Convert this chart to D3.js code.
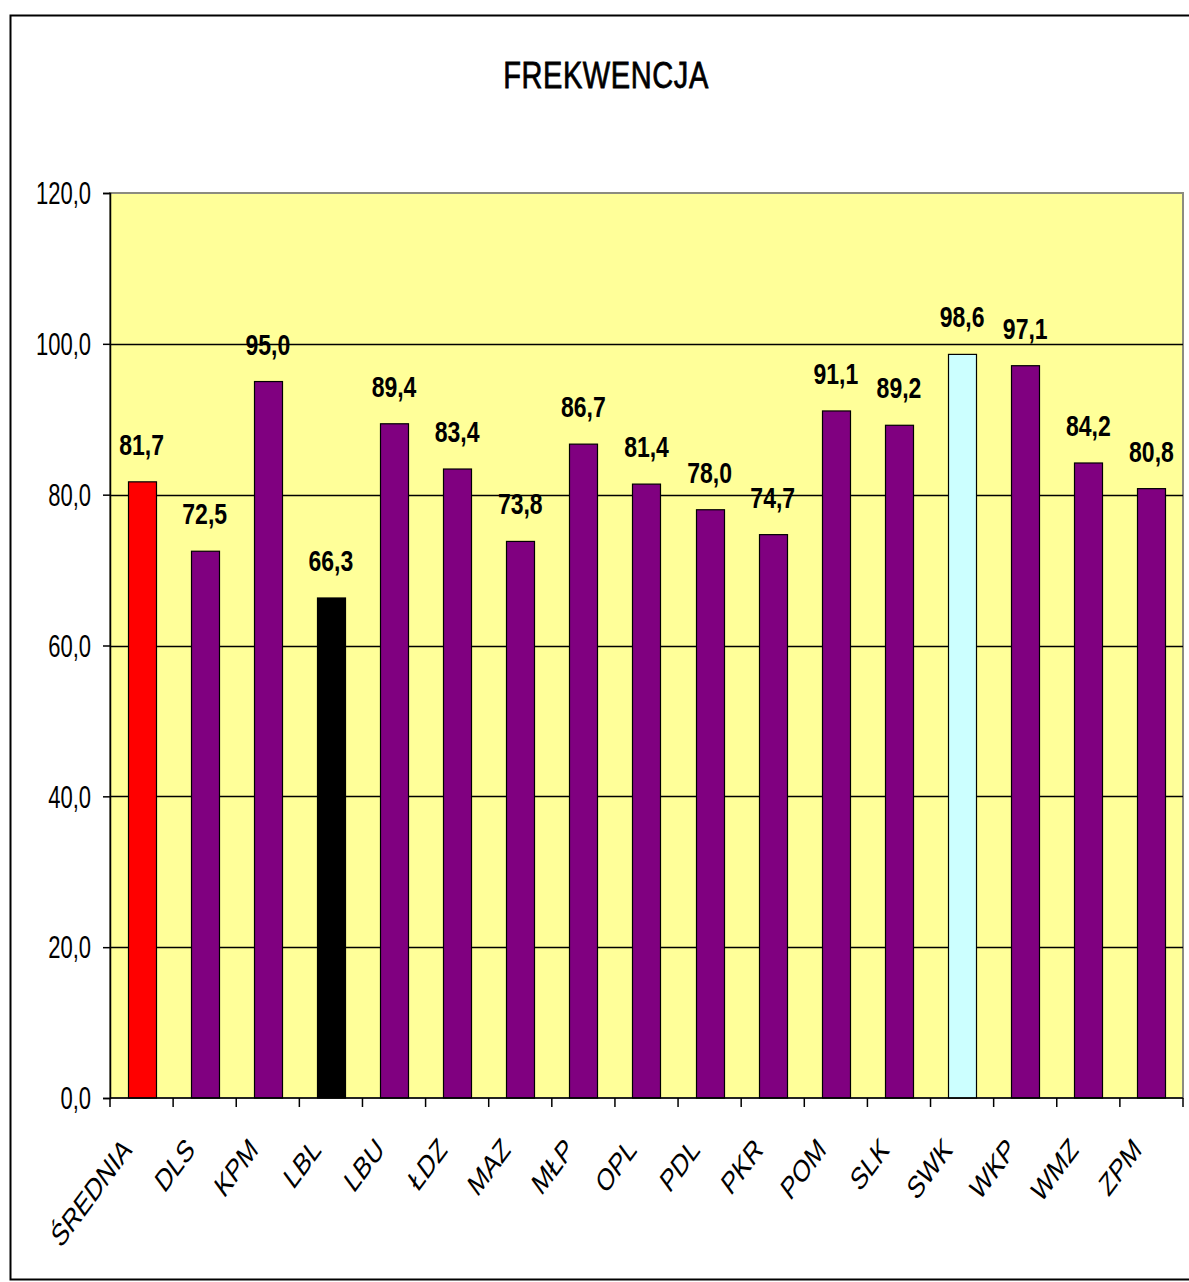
<!DOCTYPE html>
<html><head><meta charset="utf-8">
<script src="https://cdn.jsdelivr.net/npm/d3@7"></script>
<style>
html,body{margin:0;padding:0;background:#fff;}
svg{display:block;}
text{font-family:"Liberation Sans",Arial,sans-serif;fill:#000;}
</style></head>
<body>
<svg id="chart" width="1189" height="1282"></svg>
<script>
const categories = ["ŚREDNIA","DLS","KPM","LBL","LBU","ŁDZ","MAZ","MŁP","OPL","PDL","PKR","POM","SLK","SWK","WKP","WMZ","ZPM"];
const values = [81.7,72.5,95.0,66.3,89.4,83.4,73.8,86.7,81.4,78.0,74.7,91.1,89.2,98.6,97.1,84.2,80.8];
const barColors = ["#ff0000","#800080","#800080","#000000","#800080","#800080","#800080","#800080","#800080","#800080","#800080","#800080","#800080","#ccffff","#800080","#800080","#800080"];
const yTicks = [0,20,40,60,80,100,120];
const title = "FREKWENCJA";

const fmt = v => v.toFixed(1).replace(".", ",");

const svg = d3.select("#chart");
const L = 110, R = 1183, T = 193, B = 1098;

// outer chart border
svg.append("rect").attr("x",10.5).attr("y",15.5).attr("width",1200).attr("height",1264)
  .attr("fill","#fff").attr("stroke","#000").attr("stroke-width",2);

const x = d3.scaleBand().domain(categories).range([L,R]).paddingInner(0.555).paddingOuter(0.2775);
const xb = d3.scaleBand().domain(categories).range([L,R]).padding(0);
const y = d3.scaleLinear().domain([0,120]).range([B,T]);

// plot area
svg.append("rect").attr("x",L).attr("y",T).attr("width",R-L).attr("height",B-T)
  .attr("fill","#ffff99").attr("stroke","#8c8c80").attr("stroke-width",2);

// gridlines
svg.append("g").selectAll("line").data(yTicks.filter(d=>d>0 && d<120)).join("line")
  .attr("x1",L).attr("x2",R).attr("y1",d=>Math.round(y(d))+0.5).attr("y2",d=>Math.round(y(d))+0.5)
  .attr("stroke","#000").attr("stroke-width",1.3);

// bars
svg.append("g").selectAll("rect").data(values).join("rect")
  .attr("x",(d,i)=>Math.round(x(categories[i]))+0.5)
  .attr("width",Math.round(x.bandwidth()))
  .attr("y",d=>y(d))
  .attr("height",d=>B-y(d))
  .attr("fill",(d,i)=>barColors[i])
  .attr("stroke","#000").attr("stroke-width",1.2);

// y axis
const yAxis = svg.append("g").attr("transform",`translate(${L},0)`)
  .call(d3.axisLeft(y).tickValues(yTicks).tickSize(7).tickFormat(""));
yAxis.select(".domain").attr("stroke","#000").attr("stroke-width",1.5);
yAxis.selectAll(".tick line").attr("stroke","#000").attr("stroke-width",1.5);
svg.append("g").selectAll("text").data(yTicks).join("text")
  .attr("transform",d=>`translate(91,${y(d)}) scale(1,1.42)`)
  .attr("dy","0.36em").attr("text-anchor","end")
  .style("font-size","22px").text(d=>fmt(d));

// x axis (ticks at band boundaries)
const xAxisG = svg.append("g").attr("transform",`translate(0,${B})`);
xAxisG.append("line").attr("x1",L).attr("x2",R).attr("y1",0).attr("y2",0).attr("stroke","#000").attr("stroke-width",1.5);
const bounds = categories.map(c=>xb(c)).concat([R]);
xAxisG.selectAll("line.t").data(bounds).join("line").attr("class","t")
  .attr("x1",d=>d).attr("x2",d=>d).attr("y1",0).attr("y2",9).attr("stroke","#000").attr("stroke-width",1.5);

// x labels
svg.append("g").selectAll("text").data(categories).join("text")
  .attr("transform",c=>`translate(${xb(c)+xb.bandwidth()/2-20},${B+38}) scale(1,1.35) rotate(-45)`)
  .attr("text-anchor","end").attr("dy","0.7em")
  .style("font-size","23px").text(c=>c);

// value labels
svg.append("g").selectAll("text").data(values).join("text")
  .attr("transform",(d,i)=>`translate(${x(categories[i])+x.bandwidth()/2},${y(d)-27}) scale(1,1.25)`)
  .attr("text-anchor","middle")
  .style("font-size","23px").style("font-weight","bold").text(d=>fmt(d));

// title
svg.append("text").attr("transform","translate(606,88) scale(1,1.25)")
  .attr("text-anchor","middle").style("font-size","29px").style("letter-spacing","0.6px")
  .attr("stroke","#000").attr("stroke-width",0.6).text(title);
</script>
</body></html>
